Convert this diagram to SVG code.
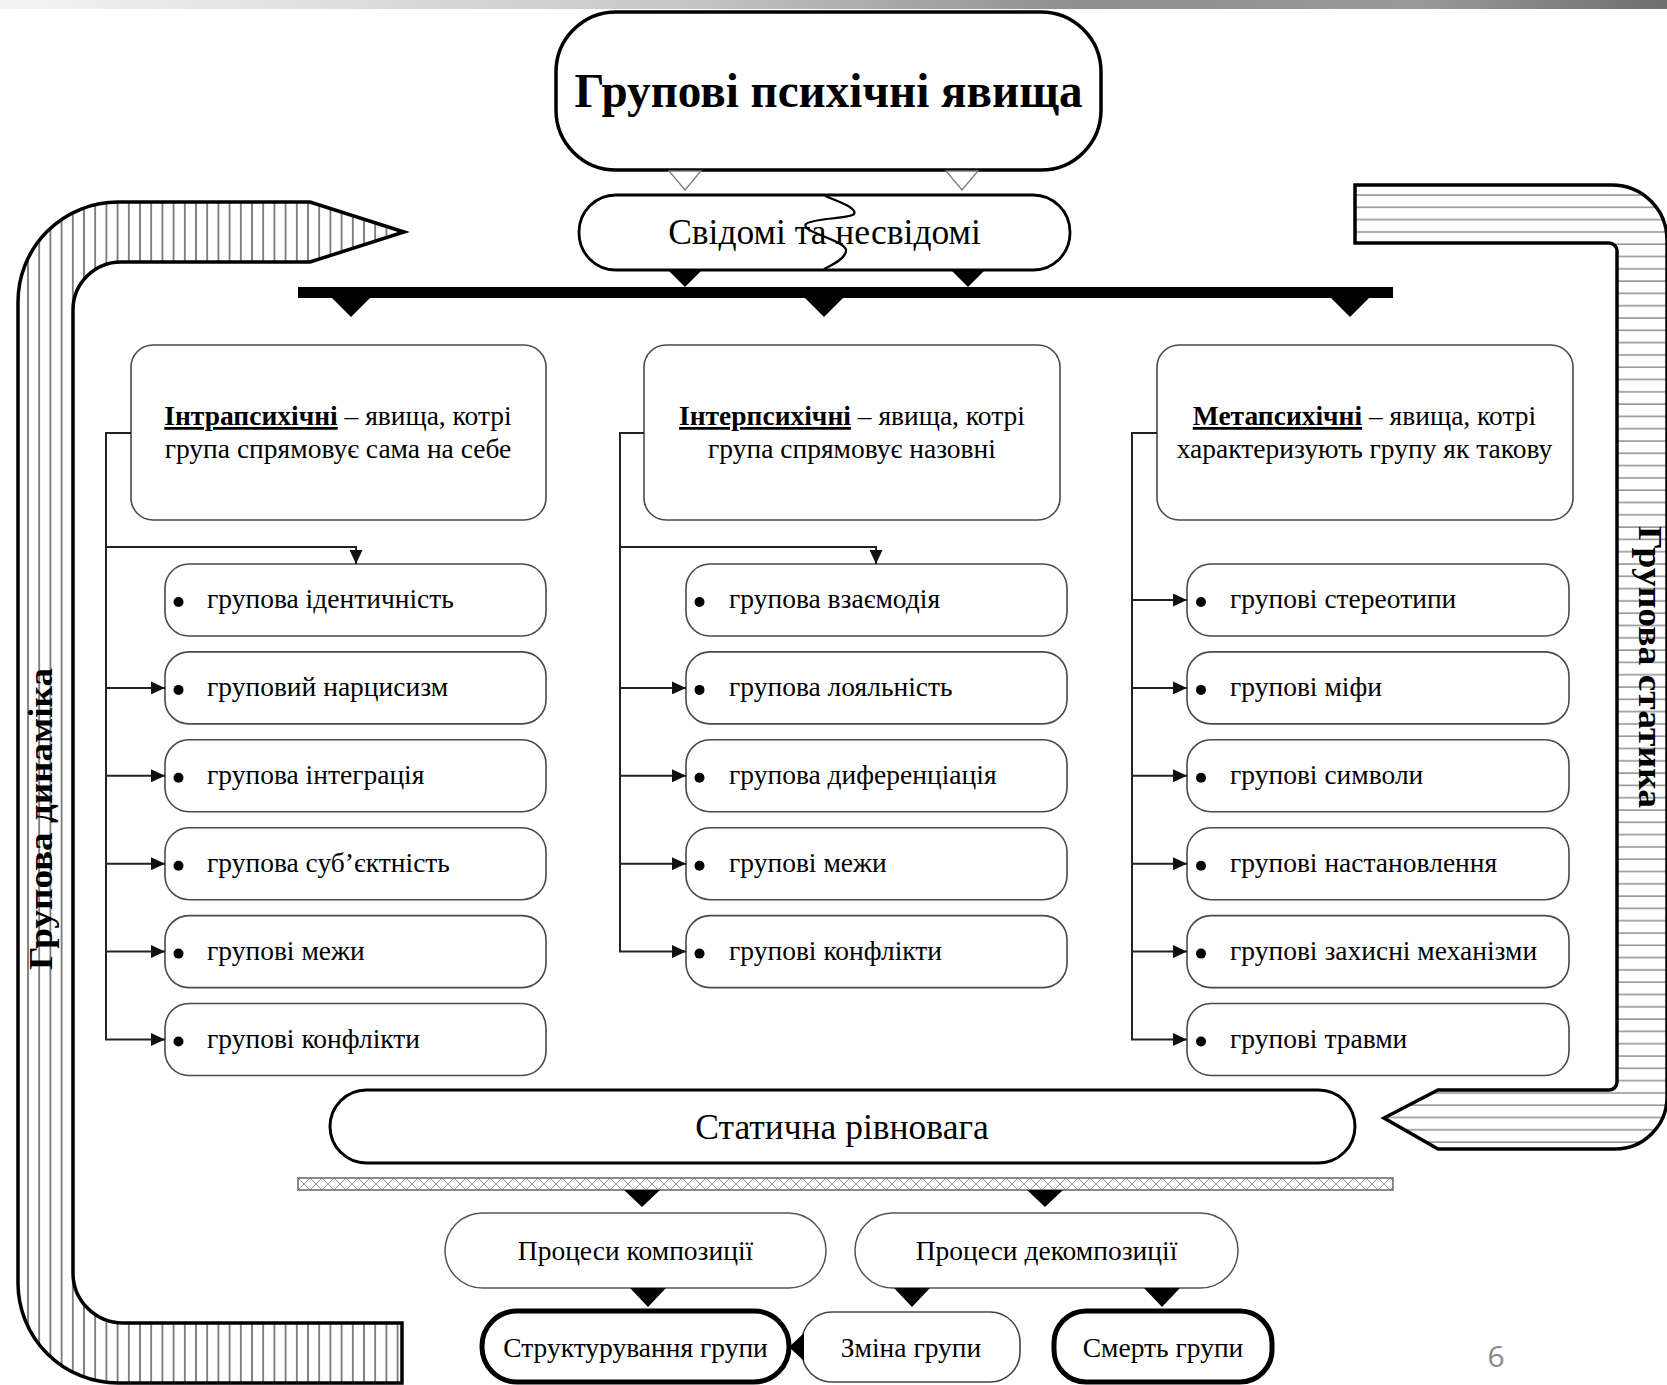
<svg xmlns="http://www.w3.org/2000/svg" width="1667" height="1385" viewBox="0 0 1667 1385">
<style>
.t{font-family:"Liberation Serif","Times New Roman",serif;fill:#000}
.item{font-size:27.5px}
.hdr{font-size:27.5px}
.box{fill:#fff;stroke:#4a4a4a;stroke-width:1.6}
.con{fill:none;stroke:#222;stroke-width:2}
.tri{fill:#000}
.otri{fill:#fff;stroke:#777;stroke-width:1.3}
</style>
<defs>
<linearGradient id="topbar" x1="0" y1="0" x2="1" y2="0">
<stop offset="0" stop-color="#f4f4f4"/>
<stop offset="0.4" stop-color="#c8c8c8"/>
<stop offset="0.65" stop-color="#8e8e8e"/>
<stop offset="0.85" stop-color="#9a9a9a"/>
<stop offset="1" stop-color="#6e6e6e"/>
</linearGradient>
<pattern id="vhatch" patternUnits="userSpaceOnUse" width="11.2" height="20">
<rect width="11.2" height="20" fill="#fff"/>
<line x1="5.6" y1="0" x2="5.6" y2="20" stroke="#222" stroke-width="1.1"/>
</pattern>
<pattern id="hhatch" patternUnits="userSpaceOnUse" width="20" height="12.3">
<rect width="20" height="12.3" fill="#fff"/>
<line x1="0" y1="10.5" x2="20" y2="10.5" stroke="#666" stroke-width="1.1"/>
</pattern>
<pattern id="xhatch" patternUnits="userSpaceOnUse" width="12" height="12" x="298" y="1178">
<rect width="12" height="12" fill="#fff"/>
<path d="M0,0 L12,12 M12,0 L0,12" stroke="#888" stroke-width="0.9"/>
</pattern>
<marker id="ah" markerUnits="userSpaceOnUse" markerWidth="14" markerHeight="13" refX="14" refY="6.5" orient="auto">
<path d="M0,0 L14,6.5 L0,13 Z" fill="#111"/>
</marker>
</defs>

<rect x="0" y="0" width="1667" height="1385" fill="#fff"/>
<rect x="0" y="0" width="1667" height="9" fill="url(#topbar)"/>

<g id="arrow-dynamics">
<path d="M404,232 L310,202 H118 A100,100 0 0 0 18,302 V1283 A100,100 0 0 0 118,1383 H402 V1323 H123 A50,50 0 0 1 73,1273 V310 A48,48 0 0 1 121,262 H310 Z" fill="url(#vhatch)" stroke="#000" stroke-width="3.5" stroke-linejoin="miter"/>
<text class="t" transform="translate(52,819) rotate(-90)" text-anchor="middle" font-size="34" font-weight="bold" textLength="302" lengthAdjust="spacingAndGlyphs">Групова динаміка</text>
</g>

<g id="arrow-statics">
<path d="M1355,185 H1612 A55,55 0 0 1 1667,240 V1097 A52,52 0 0 1 1615,1149 H1438 L1384,1118 L1438,1090 H1609 A8,8 0 0 0 1617,1082 V251 A8,8 0 0 0 1609,243 H1355 Z" fill="url(#hhatch)" stroke="#000" stroke-width="3.5"/>
<text class="t" transform="translate(1639,667) rotate(90)" text-anchor="middle" font-size="34" font-weight="bold" textLength="282" lengthAdjust="spacingAndGlyphs">Групова статика</text>
</g>

<g id="title">
<rect x="556" y="12" width="545" height="158" rx="60" ry="60" fill="#fff" stroke="#000" stroke-width="3.5"/>
<text class="t" x="828.5" y="107" text-anchor="middle" font-size="48" font-weight="bold" textLength="508" lengthAdjust="spacingAndGlyphs">Групові психічні явища</text>
</g>

<g id="conscious">
<rect x="579" y="195" width="491" height="75" rx="37" ry="37" fill="#fff" stroke="#000" stroke-width="2.8"/>
<text class="t" x="824.5" y="244" text-anchor="middle" font-size="35.5">Свідомі та несвідомі</text>
<path d="M825,196 C835,200 858,208 854,214 C850,219 812,218 806,224 C800,232 845,240 846,250 C847,258 832,265 824,269" fill="none" stroke="#000" stroke-width="2.2"/>
</g>

<g id="bar-top">
<rect x="298" y="287" width="1095" height="11" fill="#000"/>
</g>

<g id="intra">
<rect class="box" x="131" y="345" width="415" height="175" rx="22"/>
<text class="t hdr" x="338" y="425" text-anchor="middle"><tspan font-weight="bold" style="text-decoration:underline">Інтрапсихічні</tspan> – явища, котрі</text>
<text class="t hdr" x="338" y="458" text-anchor="middle">група спрямовує сама на себе</text>
</g>
<g id="inter">
<rect class="box" x="644" y="345" width="416" height="175" rx="22"/>
<text class="t hdr" x="852" y="425" text-anchor="middle"><tspan font-weight="bold" style="text-decoration:underline">Інтерпсихічні</tspan> – явища, котрі</text>
<text class="t hdr" x="852" y="458" text-anchor="middle">група спрямовує назовні</text>
</g>
<g id="meta">
<rect class="box" x="1157" y="345" width="416" height="175" rx="22"/>
<text class="t hdr" x="1364.5" y="425" text-anchor="middle"><tspan font-weight="bold" style="text-decoration:underline">Метапсихічні</tspan> – явища, котрі</text>
<text class="t hdr" x="1364.5" y="458" text-anchor="middle">характеризують групу як такову</text>
</g>

<g id="intra-1"><rect class="box" x="165" y="564" width="381" height="72" rx="24"/><circle cx="178.5" cy="602" r="5"/><text class="t item" x="207" y="608">групова ідентичність</text></g>
<g id="intra-2"><rect class="box" x="165" y="651.9" width="381" height="72" rx="24"/><circle cx="178.5" cy="689.9" r="5"/><text class="t item" x="207" y="695.9">груповий нарцисизм</text></g>
<g id="intra-3"><rect class="box" x="165" y="739.8" width="381" height="72" rx="24"/><circle cx="178.5" cy="777.8" r="5"/><text class="t item" x="207" y="783.8">групова інтеграція</text></g>
<g id="intra-4"><rect class="box" x="165" y="827.7" width="381" height="72" rx="24"/><circle cx="178.5" cy="865.7" r="5"/><text class="t item" x="207" y="871.7">групова суб’єктність</text></g>
<g id="intra-5"><rect class="box" x="165" y="915.6" width="381" height="72" rx="24"/><circle cx="178.5" cy="953.6" r="5"/><text class="t item" x="207" y="959.6">групові межи</text></g>
<g id="intra-6"><rect class="box" x="165" y="1003.5" width="381" height="72" rx="24"/><circle cx="178.5" cy="1041.5" r="5"/><text class="t item" x="207" y="1047.5">групові конфлікти</text></g>

<g id="inter-1"><rect class="box" x="686" y="564" width="381" height="72" rx="24"/><circle cx="699.5" cy="602" r="5"/><text class="t item" x="729" y="608">групова взаємодія</text></g>
<g id="inter-2"><rect class="box" x="686" y="651.9" width="381" height="72" rx="24"/><circle cx="699.5" cy="689.9" r="5"/><text class="t item" x="729" y="695.9">групова лояльність</text></g>
<g id="inter-3"><rect class="box" x="686" y="739.8" width="381" height="72" rx="24"/><circle cx="699.5" cy="777.8" r="5"/><text class="t item" x="729" y="783.8">групова диференціація</text></g>
<g id="inter-4"><rect class="box" x="686" y="827.7" width="381" height="72" rx="24"/><circle cx="699.5" cy="865.7" r="5"/><text class="t item" x="729" y="871.7">групові межи</text></g>
<g id="inter-5"><rect class="box" x="686" y="915.6" width="381" height="72" rx="24"/><circle cx="699.5" cy="953.6" r="5"/><text class="t item" x="729" y="959.6">групові конфлікти</text></g>

<g id="meta-1"><rect class="box" x="1187" y="564" width="382" height="72" rx="24"/><circle cx="1201" cy="602" r="5"/><text class="t item" x="1230" y="608">групові стереотипи</text></g>
<g id="meta-2"><rect class="box" x="1187" y="651.9" width="382" height="72" rx="24"/><circle cx="1201" cy="689.9" r="5"/><text class="t item" x="1230" y="695.9">групові міфи</text></g>
<g id="meta-3"><rect class="box" x="1187" y="739.8" width="382" height="72" rx="24"/><circle cx="1201" cy="777.8" r="5"/><text class="t item" x="1230" y="783.8">групові символи</text></g>
<g id="meta-4"><rect class="box" x="1187" y="827.7" width="382" height="72" rx="24"/><circle cx="1201" cy="865.7" r="5"/><text class="t item" x="1230" y="871.7">групові настановлення</text></g>
<g id="meta-5"><rect class="box" x="1187" y="915.6" width="382" height="72" rx="24"/><circle cx="1201" cy="953.6" r="5"/><text class="t item" x="1230" y="959.6">групові захисні механізми</text></g>
<g id="meta-6"><rect class="box" x="1187" y="1003.5" width="382" height="72" rx="24"/><circle cx="1201" cy="1041.5" r="5"/><text class="t item" x="1230" y="1047.5">групові травми</text></g>

<g id="static-balance">
<rect x="330" y="1090" width="1025" height="73" rx="36.5" ry="36.5" fill="#fff" stroke="#000" stroke-width="3"/>
<text class="t" x="842" y="1139" text-anchor="middle" font-size="35.5">Статична рівновага</text>
</g>

<g id="bar-hatched">
<rect x="298" y="1178" width="1095" height="12" fill="url(#xhatch)" stroke="#666" stroke-width="1.5"/>
</g>

<g id="composition">
<rect x="445" y="1213" width="381" height="75" rx="37.5" ry="37.5" fill="#fff" stroke="#555" stroke-width="1.5"/>
<text class="t" x="635.5" y="1260" text-anchor="middle" font-size="27.5">Процеси композиції</text>
</g>
<g id="decomposition">
<rect x="855" y="1213" width="383" height="75" rx="37.5" ry="37.5" fill="#fff" stroke="#555" stroke-width="1.5"/>
<text class="t" x="1046.5" y="1260" text-anchor="middle" font-size="27.5">Процеси декомпозиції</text>
</g>

<g id="structuring">
<rect x="482" y="1311" width="307" height="71" rx="35" ry="35" fill="#fff" stroke="#000" stroke-width="5"/>
<text class="t" x="635.5" y="1357" text-anchor="middle" font-size="27.5">Структурування групи</text>
</g>
<g id="change">
<rect x="802" y="1312" width="218" height="70" rx="30" ry="30" fill="#fff" stroke="#444" stroke-width="1.6"/>
<text class="t" x="911" y="1357" text-anchor="middle" font-size="27.5">Зміна групи</text>
</g>
<g id="death">
<rect x="1054" y="1311" width="218" height="71" rx="32" ry="32" fill="#fff" stroke="#000" stroke-width="5"/>
<text class="t" x="1163" y="1357" text-anchor="middle" font-size="27.5">Смерть групи</text>
</g>

<g id="connectors">
<polygon class="otri" points="669,171 701,171 685,190"/>
<polygon class="otri" points="946,171 978,171 962,190"/>
<polygon class="tri" points="667,269 703,269 685,287"/>
<polygon class="tri" points="950,269 986,269 968,287"/>
<polygon class="tri" points="332,298 370,298 351,317"/>
<polygon class="tri" points="805,298 843,298 824,317"/>
<polygon class="tri" points="1331,298 1369,298 1350,317"/>
<polygon class="tri" points="624,1190 660,1190 642,1207"/>
<polygon class="tri" points="1027,1190 1063,1190 1045,1207"/>
<polygon class="tri" points="630,1288 666,1288 648,1307"/>
<polygon class="tri" points="894,1288 930,1288 912,1307"/>
<polygon class="tri" points="1144,1288 1180,1288 1162,1307"/>
<polygon class="tri" points="789,1347 804,1333 804,1361"/>

<path class="con" d="M131,433 H106 V1039.5 H165" marker-end="url(#ah)"/>
<path class="con" d="M106,547 H356 V564" marker-end="url(#ah)"/>
<path class="con" d="M106,687.9 H165" marker-end="url(#ah)"/>
<path class="con" d="M106,775.8 H165" marker-end="url(#ah)"/>
<path class="con" d="M106,863.7 H165" marker-end="url(#ah)"/>
<path class="con" d="M106,951.6 H165" marker-end="url(#ah)"/>

<path class="con" d="M644,433 H620 V951.6 H686" marker-end="url(#ah)"/>
<path class="con" d="M620,547 H876 V564" marker-end="url(#ah)"/>
<path class="con" d="M620,687.9 H686" marker-end="url(#ah)"/>
<path class="con" d="M620,775.8 H686" marker-end="url(#ah)"/>
<path class="con" d="M620,863.7 H686" marker-end="url(#ah)"/>

<path class="con" d="M1157,433 H1132 V1039.5 H1187" marker-end="url(#ah)"/>
<path class="con" d="M1132,600 H1187" marker-end="url(#ah)"/>
<path class="con" d="M1132,687.9 H1187" marker-end="url(#ah)"/>
<path class="con" d="M1132,775.8 H1187" marker-end="url(#ah)"/>
<path class="con" d="M1132,863.7 H1187" marker-end="url(#ah)"/>
<path class="con" d="M1132,951.6 H1187" marker-end="url(#ah)"/>
</g>

<text x="1496" y="1367" text-anchor="middle" font-family="'Open Sans','Liberation Sans',sans-serif" font-size="30" fill="#8a8a8a">6</text>
</svg>
